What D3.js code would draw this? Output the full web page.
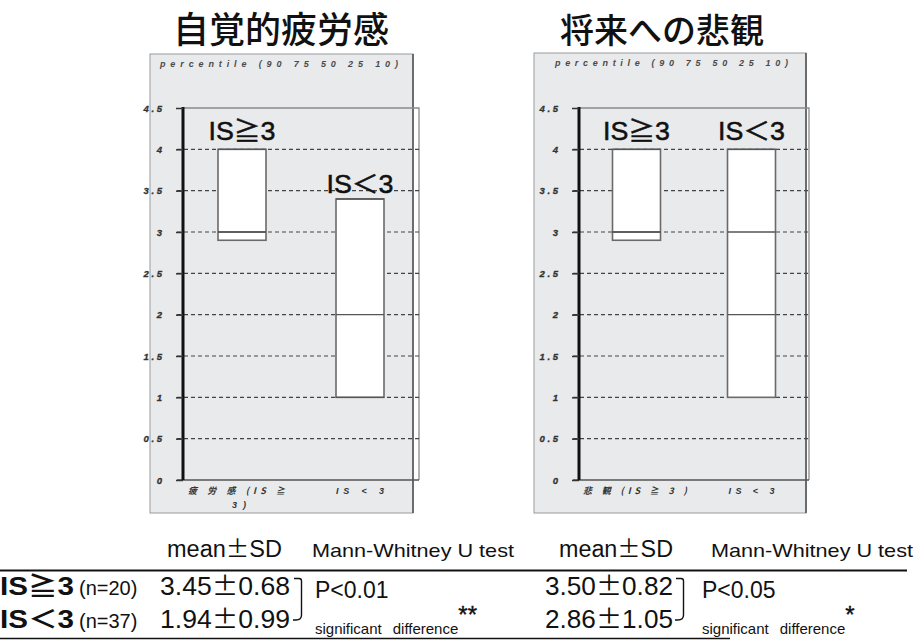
<!DOCTYPE html>
<html>
<head>
<meta charset="utf-8">
<script src="https://cdn.jsdelivr.net/npm/d3@7"></script>
<style>
  html, body { margin: 0; padding: 0; background: #fff; }
  svg { display: block; }
</style>
</head>
<body>
<svg id="chart" width="918" height="641"></svg>
<script>
// ---- data ----
const groups = ["IS≧3", "IS＜3"];
const groupN = [20, 37];
const panelTitles = ["自覚的疲労感", "将来への悲観"];
const axisLabels = [["疲 労 感 (IS ≧", "3 )"], ["悲 観 (IS ≧ 3 )"]];
const axisLabels2 = ["IS < 3", "IS < 3"];
const yTicks = [0, 0.5, 1, 1.5, 2, 2.5, 3, 3.5, 4, 4.5];

// percentile boxes (90 75 50 25 10) per group
const fatigueP90 = [4.0, 3.4];
const fatigueP75 = [4.0, 3.4];
const fatigueP50 = [3.0, 2.0];
const fatigueP25 = [3.0, 1.0];
const fatigueP10 = [2.9, 1.0];
const pessimP90 = [4.0, 4.0];
const pessimP75 = [4.0, 4.0];
const pessimP50 = [3.0, 3.0];
const pessimP25 = [3.0, 2.0];
const pessimP10 = [2.9, 1.0];

// summary table
const fatigueMean = [3.45, 1.94];
const fatigueSD = [0.68, 0.99];
const pessimMean = [3.50, 2.86];
const pessimSD = [0.82, 1.05];
const pLabels = ["P<0.01", "P<0.05"];
const sigStars = ["**", "*"];

const panelData = [
  {p90: fatigueP90, p75: fatigueP75, p50: fatigueP50, p25: fatigueP25, p10: fatigueP10},
  {p90: pessimP90, p75: pessimP75, p50: pessimP50, p25: pessimP25, p10: pessimP10}
];

// ---- layout ----
const svg = d3.select("#chart");
const jp = "'Noto Sans CJK JP', 'Noto Sans', sans-serif";
const latin = "'Liberation Sans', Arial, 'Noto Sans CJK JP', sans-serif";

const panels = [
  {bgX: 150, bgY: 54, bgW: 263, bgH: 459, axisX: 183, plotR: 419, titleX: 281, titleSize: 36,
   capX: 160, capLen: 238, catX: [188, 232], catLen: [97, 14], cat2Len: 48},
  {bgX: 534, bgY: 53, bgW: 272, bgH: 460, axisX: 579, plotR: 809, titleX: 662, titleSize: 34,
   capX: 555, capLen: 233, catX: [583], catLen: [104], cat2Len: 46}
];
const y = d3.scaleLinear().domain([0, 4.5]).range([480, 108]);
const boxW = 48;

const fmtTick = d => String(d).split("").join(" ");

panels.forEach((p, i) => {
  const g = svg.append("g");
  const d = panelData[i];

  // title
  g.append("text")
    .attr("x", p.titleX).attr("y", 43)
    .attr("text-anchor", "middle")
    .attr("font-family", jp).attr("font-weight", 500)
    .attr("font-size", p.titleSize).attr("fill", "#111")
    .text(panelTitles[i]);

  // panel background and frame
  g.append("rect")
    .attr("x", p.bgX).attr("y", p.bgY).attr("width", p.bgW).attr("height", p.bgH)
    .attr("fill", "#e9eaec").attr("stroke", "#9a9a9a").attr("stroke-width", 1);
  g.append("line")
    .attr("x1", p.bgX + p.bgW).attr("x2", p.bgX + p.bgW)
    .attr("y1", p.bgY).attr("y2", p.bgY + p.bgH)
    .attr("stroke", "#555").attr("stroke-width", 1.6);

  // percentile caption
  g.append("text")
    .attr("x", p.capX).attr("y", p.bgY + 13)
    .attr("font-family", latin).attr("font-style", "italic").attr("font-weight", "bold")
    .attr("font-size", 9).attr("fill", "#4a4a4a")
    .attr("textLength", p.capLen).attr("lengthAdjust", "spacing")
    .text("percentile (90 75 50 25 10)");

  // plot frame (top and right)
  g.append("path")
    .attr("d", `M${p.axisX},${y(4.5)}H${p.plotR}V${y(0)}`)
    .attr("fill", "none").attr("stroke", "#8a8a8a").attr("stroke-width", 1.3);

  // dashed grid
  g.append("g").selectAll("line")
    .data(yTicks.filter(t => t > 0 && t < 4.5))
    .join("line")
    .attr("x1", p.axisX - 6).attr("x2", p.plotR)
    .attr("y1", t => y(t)).attr("y2", t => y(t))
    .attr("stroke", "#444").attr("stroke-width", 1.2)
    .attr("stroke-dasharray", "4,3");

  // bottom line
  g.append("line")
    .attr("x1", p.axisX - 6).attr("x2", p.plotR)
    .attr("y1", y(0)).attr("y2", y(0))
    .attr("stroke", "#555").attr("stroke-width", 1.6);

  // boxes
  const x = d3.scalePoint().domain(groups).range([p.axisX, p.plotR]).padding(0.5);
  const bg = g.append("g").selectAll("g").data(groups).join("g");
  bg.append("rect")
    .attr("x", (k) => x(k) - boxW / 2)
    .attr("y", (k, j) => y(d.p90[j]))
    .attr("width", boxW)
    .attr("height", (k, j) => y(d.p10[j]) - y(d.p90[j]))
    .attr("fill", "#fff").attr("stroke", "#6a6a6a").attr("stroke-width", 1.6);
  ["p75", "p50", "p25"].forEach(q => {
    bg.append("line")
      .attr("x1", k => x(k) - boxW / 2).attr("x2", k => x(k) + boxW / 2)
      .attr("y1", (k, j) => y(d[q][j])).attr("y2", (k, j) => y(d[q][j]))
      .attr("stroke", "#555").attr("stroke-width", 1.4);
  });

  // y axis
  const ax = g.append("g")
    .attr("transform", `translate(${p.axisX},0)`)
    .call(d3.axisLeft(y).tickValues(yTicks).tickSize(7).tickPadding(14).tickFormat(fmtTick));
  ax.select(".domain").attr("stroke", "#111").attr("stroke-width", 3)
    .attr("d", `M0,${y(4.5) - 1}V${y(0)}`);
  ax.selectAll(".tick line").attr("stroke", "#333").attr("stroke-width", 1.5);
  ax.selectAll(".tick text")
    .attr("font-family", latin).attr("font-style", "italic").attr("font-weight", "bold")
    .attr("font-size", 9.5).attr("fill", "#333")
    .attr("stroke", "#333").attr("stroke-width", 0.3);

  // group labels inside plot
  const labelY = i === 0 ? [140, 193] : [140, 140];
  g.append("g").selectAll("text").data(groups).join("text")
    .attr("x", k => x(k))
    .attr("y", (k, j) => labelY[j])
    .attr("text-anchor", "middle")
    .attr("font-family", latin)
    .attr("font-size", 25).attr("fill", "#111")
    .attr("stroke", "#111").attr("stroke-width", 0.5)
    .attr("textLength", 67).attr("lengthAdjust", "spacingAndGlyphs")
    .text(k => k);

  // category labels below axis
  axisLabels[i].forEach((s, li) => {
    g.append("text")
      .attr("x", p.catX[li]).attr("y", 494 + li * 14)
      .attr("font-family", li === 0 ? jp : latin)
      .attr("font-style", "italic").attr("font-weight", "bold")
      .attr("font-size", 9).attr("fill", "#333")
      .attr("textLength", p.catLen[li]).attr("lengthAdjust", "spacing")
      .text(s);
  });
  g.append("text")
    .attr("x", x(groups[1])).attr("y", 494)
    .attr("text-anchor", "middle")
    .attr("font-family", latin).attr("font-style", "italic").attr("font-weight", "bold")
    .attr("font-size", 9).attr("fill", "#333")
    .attr("textLength", p.cat2Len).attr("lengthAdjust", "spacing")
    .text(axisLabels2[i]);
});

// ---- summary table ----
const t = svg.append("g").attr("font-family", latin).attr("fill", "#111");

// text with a full-width ± sign
function pmText(sel, parts) {
  sel.append("tspan").text(parts[0]);
  sel.append("tspan").attr("font-family", jp).text("±");
  sel.append("tspan").text(parts[1]);
  return sel;
}

const headerCols = [
  {x: 167, parts: ["mean", "SD"], size: 23, len: 115},
  {x: 312, text: "Mann-Whitney U test", size: 19, len: 202},
  {x: 559, parts: ["mean", "SD"], size: 23, len: 114},
  {x: 711, text: "Mann-Whitney U test", size: 19, len: 202}
];
headerCols.forEach(c => {
  const el = t.append("text").attr("x", c.x).attr("y", 557)
    .attr("font-size", c.size)
    .attr("textLength", c.len).attr("lengthAdjust", "spacingAndGlyphs");
  if (c.parts) pmText(el, c.parts); else el.text(c.text);
});

t.append("line").attr("x1", 0).attr("x2", 907).attr("y1", 570.5).attr("y2", 570.5)
  .attr("stroke", "#111").attr("stroke-width", 2);
t.append("line").attr("x1", 0).attr("x2", 730).attr("y1", 638.5).attr("y2", 638.5)
  .attr("stroke", "#111").attr("stroke-width", 1.5);

const rowY = [595, 628];
groups.forEach((gname, j) => {
  t.append("text").attr("x", 0).attr("y", rowY[j])
    .attr("font-size", 25).attr("font-weight", "bold")
    .attr("textLength", 74).attr("lengthAdjust", "spacingAndGlyphs")
    .text(gname);
  t.append("text").attr("x", 79).attr("y", rowY[j])
    .attr("font-size", 20)
    .text(`(n=${groupN[j]})`);
  pmText(t.append("text").attr("x", 290).attr("y", rowY[j])
    .attr("text-anchor", "end").attr("font-size", 25)
    .attr("textLength", 130).attr("lengthAdjust", "spacingAndGlyphs"),
    [fatigueMean[j].toFixed(2), fatigueSD[j].toFixed(2)]);
  pmText(t.append("text").attr("x", 673).attr("y", rowY[j])
    .attr("text-anchor", "end").attr("font-size", 25)
    .attr("textLength", 128).attr("lengthAdjust", "spacingAndGlyphs"),
    [pessimMean[j].toFixed(2), pessimSD[j].toFixed(2)]);
});

// brackets joining the two rows
[294, 676].forEach(bx => {
  t.append("path")
    .attr("d", `M${bx},578.5H${bx + 5}Q${bx + 7.5},578.5 ${bx + 7.5},581V615Q${bx + 7.5},620 ${bx + 2},620H${bx - 1}`)
    .attr("fill", "none").attr("stroke", "#111").attr("stroke-width", 1.4);
});

// test results
const testX = [315, 702];
pLabels.forEach((pl, k) => {
  t.append("text").attr("x", testX[k]).attr("y", 598)
    .attr("font-size", 23).text(pl);
  const s = t.append("text").attr("x", testX[k]).attr("y", 634).attr("font-size", 15);
  s.append("tspan").text("significant");
  s.append("tspan").attr("dx", 11).text("difference");
  s.append("tspan").attr("dy", -11).attr("font-size", 24)
    .attr("stroke", "#111").attr("stroke-width", 0.4).text(sigStars[k]);
});
</script>
</body>
</html>
